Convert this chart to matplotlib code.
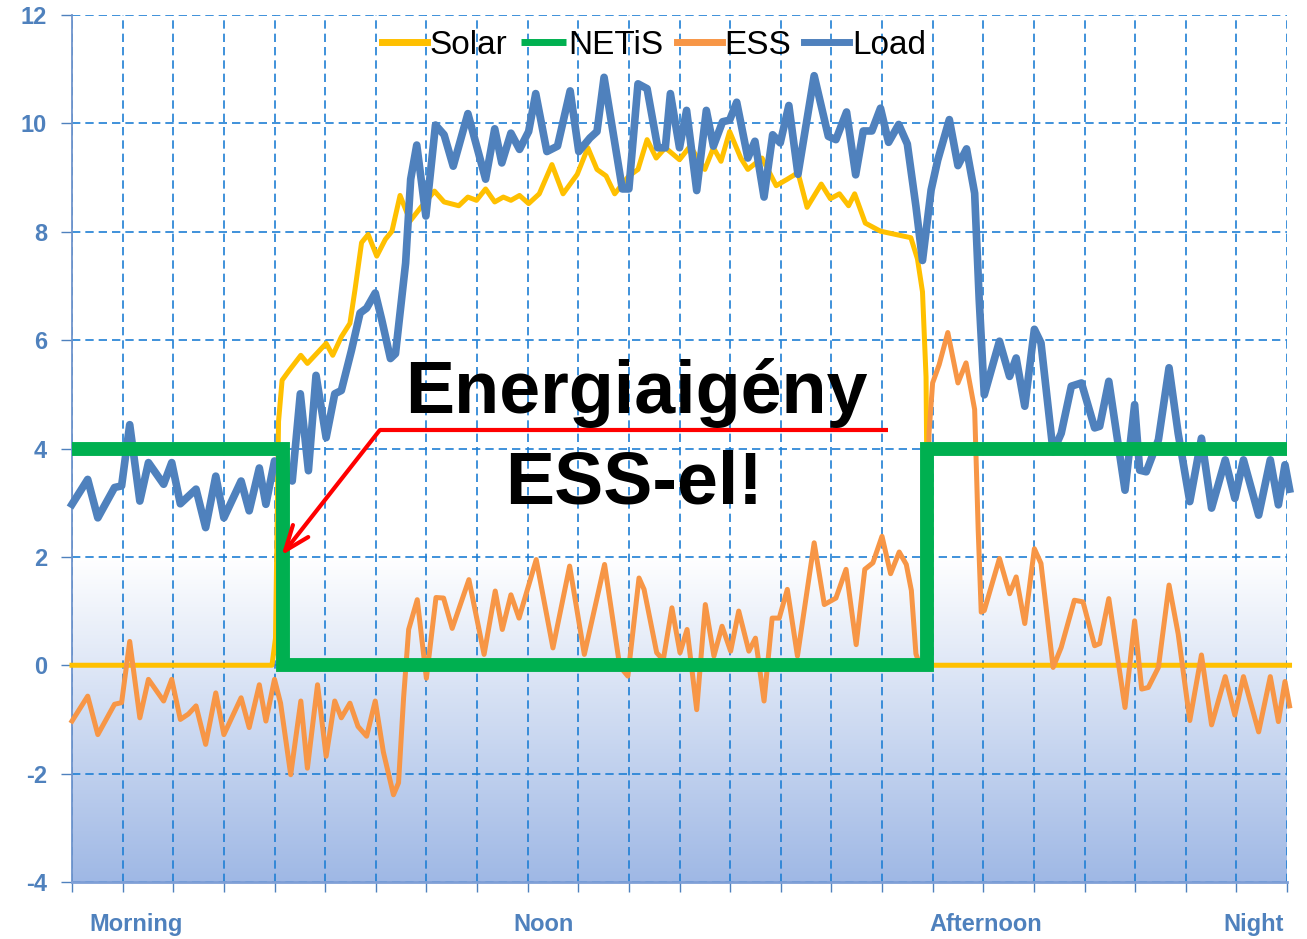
import numpy as np
import matplotlib
matplotlib.use('Agg')
import matplotlib.pyplot as plt
import matplotlib.transforms as mtransforms
from matplotlib.colors import LinearSegmentedColormap

plt.rcParams['axes.unicode_minus'] = False

# hours of the day and the four power series (kW)
solar_t = [0, 3.95, 4.02, 4.08, 4.15, 4.29, 4.52, 4.65, 5.02, 5.15, 5.32, 5.49, 5.59, 5.72, 5.85,
           6.02, 6.19, 6.32, 6.48, 6.68, 6.89, 7.16, 7.35, 7.64, 7.82, 7.99, 8.17, 8.35, 8.52, 8.67,
           8.84, 9.02, 9.23, 9.48, 9.7, 9.98, 10.19, 10.37, 10.55, 10.72, 11.0, 11.18, 11.36, 11.54,
           11.72, 12.0, 12.21, 12.5, 12.67, 12.82, 12.99, 13.21, 13.35, 13.63, 13.91, 14.13, 14.34,
           14.52, 14.8, 14.98, 15.16, 15.34, 15.46, 15.67, 15.97, 16.57, 16.7, 16.8, 16.87, 16.9,
           16.93, 17.0, 24.05]
solar_v = [0, 0, 0.5, 4.5, 5.26, 5.44, 5.72, 5.57, 5.94, 5.72, 6.06, 6.31, 6.93, 7.8, 7.95,
           7.55, 7.86, 8.01, 8.67, 8.2, 8.45, 8.75, 8.55, 8.48, 8.64, 8.58, 8.79, 8.55, 8.64, 8.58,
           8.67, 8.52, 8.7, 9.24, 8.7, 9.06, 9.55, 9.15, 9.03, 8.7, 9.03, 9.15, 9.7, 9.36,
           9.55, 9.33, 9.58, 9.15, 9.55, 9.3, 9.85, 9.36, 9.15, 9.36, 8.85, 8.97, 9.09,
           8.45, 8.88, 8.61, 8.7, 8.48, 8.7, 8.16, 8.01, 7.89, 7.5, 6.89, 5.32, 2.0,
           0.1, 0, 0]

netis_t = [0, 4.17, 4.17, 16.88, 16.88, 24.0]
netis_v = [4, 4, 0, 0, 4, 4]

ess_t = [0.0, 0.31, 0.51, 0.84, 0.98, 1.14, 1.34, 1.51, 1.81, 1.97, 2.14, 2.3, 2.45, 2.64, 2.84,
         3.0, 3.34, 3.5, 3.7, 3.83, 4.0, 4.12, 4.32, 4.52, 4.65, 4.85, 5.02, 5.19, 5.32, 5.49,
         5.65, 5.82, 5.99, 6.15, 6.35, 6.45, 6.55, 6.65, 6.82, 7.0, 7.19, 7.34, 7.51, 7.84, 8.14,
         8.36, 8.5, 8.67, 8.83, 9.17, 9.5, 9.83, 10.12, 10.52, 10.82, 10.98, 11.2, 11.3, 11.55,
         11.68, 11.85, 12.01, 12.15, 12.34, 12.51, 12.68, 12.84, 13.01, 13.17, 13.37, 13.5, 13.67,
         13.83, 13.97, 14.13, 14.33, 14.66, 14.86, 15.09, 15.29, 15.49, 15.66, 15.82, 16.0, 16.17,
         16.34, 16.48, 16.58, 16.67, 16.75, 16.85, 16.93, 17.0, 17.13, 17.3, 17.5, 17.66, 17.83,
         17.9, 17.96, 18.02, 18.32, 18.52, 18.65, 18.82, 19.01, 19.14, 19.38, 19.54, 19.8, 19.97,
         20.2, 20.3, 20.48, 20.8, 20.99, 21.13, 21.26, 21.46, 21.67, 21.85, 22.08, 22.31, 22.51,
         22.78, 22.97, 23.14, 23.44, 23.67, 23.83, 23.96, 24.05]
ess_v = [-1.03, -0.57, -1.28, -0.72, -0.69, 0.44, -0.97, -0.26, -0.66, -0.26, -1.0, -0.9, -0.75, -1.46, -0.51,
         -1.28, -0.6, -1.15, -0.36, -1.03, -0.26, -0.7, -2.02, -0.66, -1.9, -0.36, -1.68, -0.66, -0.97, -0.7,
         -1.13, -1.31, -0.66, -1.6, -2.39, -2.17, -0.6, 0.66, 1.21, -0.24, 1.25, 1.24, 0.68, 1.58, 0.2,
         1.37, 0.66, 1.3, 0.87, 1.95, 0.32, 1.83, 0.2, 1.86, -0.02, -0.2, 1.61, 1.4, 0.23,
         0.1, 1.06, 0.23, 0.66, -0.82, 1.12, 0.17, 0.72, 0.26, 1.0, 0.26, 0.5, -0.66,
         0.87, 0.87, 1.4, 0.17, 2.26, 1.12, 1.24, 1.77, 0.38, 1.77, 1.89, 2.38, 1.69,
         2.09, 1.86, 1.38, 0.21, 0.0, 0.1, 4.3, 5.21, 5.55, 6.14, 5.21, 5.58, 4.72,
         2.5, 0.98, 1.01, 1.97, 1.32, 1.63, 0.77, 2.15, 1.88, -0.04, 0.33, 1.2, 1.17,
         0.36, 0.4, 1.23, -0.78, 0.82, -0.44, -0.41, -0.04, 1.48, 0.58, -1.02, 0.19, -1.1,
         -0.21, -0.92, -0.21, -1.23, -0.21, -1.04, -0.3, -0.75]

load_t = [0.0, 0.31, 0.51, 0.84, 0.98, 1.14, 1.34, 1.51, 1.81, 1.97, 2.14, 2.3, 2.45, 2.64, 2.84,
          3.0, 3.34, 3.5, 3.7, 3.83, 4.0, 4.18, 4.35, 4.51, 4.67, 4.82, 5.02, 5.19, 5.32, 5.52,
          5.69, 5.82, 5.99, 6.12, 6.29, 6.39, 6.59, 6.69, 6.81, 6.99, 7.18, 7.35, 7.53, 7.82, 8.17,
          8.35, 8.49, 8.67, 8.84, 9.02, 9.16, 9.38, 9.59, 9.84, 10.01, 10.23, 10.37, 10.51, 10.87,
          11.0, 11.18, 11.36, 11.57, 11.72, 11.82, 12.0, 12.14, 12.34, 12.53, 12.67, 12.85, 12.99,
          13.13, 13.35, 13.49, 13.67, 13.84, 13.99, 14.16, 14.34, 14.66, 14.94, 15.09, 15.3, 15.48,
          15.63, 15.8, 15.97, 16.13, 16.33, 16.5, 16.67, 16.8, 16.97, 17.1, 17.33, 17.5, 17.67,
          17.83, 17.92, 18.02, 18.32, 18.52, 18.65, 18.82, 19.01, 19.14, 19.38, 19.54, 19.74, 19.94,
          20.2, 20.3, 20.48, 20.8, 20.99, 21.09, 21.22, 21.46, 21.67, 21.85, 22.08, 22.31, 22.51,
          22.78, 22.97, 23.14, 23.44, 23.67, 23.83, 23.96, 24.05]
load_v = [2.97, 3.43, 2.72, 3.28, 3.31, 4.44, 3.03, 3.74, 3.34, 3.74, 2.98, 3.12, 3.25, 2.54, 3.49,
          2.72, 3.4, 2.85, 3.64, 2.97, 3.77, 3.55, 3.4, 5.01, 3.59, 5.35, 4.2, 5.01, 5.07, 5.81,
          6.5, 6.59, 6.87, 6.37, 5.66, 5.75, 7.42, 8.97, 9.6, 8.29, 9.97, 9.79, 9.21, 10.18, 8.97,
          9.9, 9.27, 9.82, 9.52, 9.85, 10.55, 9.48, 9.58, 10.6, 9.48, 9.73, 9.85, 10.85, 8.79,
          8.79, 10.73, 10.64, 9.55, 9.55, 10.55, 9.55, 10.24, 8.76, 10.24, 9.58, 10.03, 10.06,
          10.39, 9.36, 9.67, 8.64, 9.79, 9.64, 10.33, 9.06, 10.88, 9.76, 9.7, 10.21, 9.05,
          9.86, 9.86, 10.28, 9.65, 9.98, 9.62, 8.47, 7.47, 8.77, 9.32, 10.07, 9.22, 9.53,
          8.71, 6.75, 4.99, 5.98, 5.33, 5.67, 4.78, 6.2, 5.95, 3.94, 4.28, 5.15, 5.21,
          4.38, 4.41, 5.24, 3.23, 4.81, 3.6, 3.57, 4.16, 5.49, 4.28, 3.02, 4.19, 2.9,
          3.79, 3.08, 3.79, 2.77, 3.79, 2.96, 3.7, 3.25]

period_labels = ['Morning', 'Noon', 'Afternoon', 'Night']
period_pos = [1.26, 9.32, 18.05, 23.35]
y_ticks = [-4, -2, 0, 2, 4, 6, 8, 10, 12]

blue_txt = '#4f81bd'
grid_c = '#1f7fd4'
sans = ['Liberation Sans', 'DejaVu Sans']

fig = plt.figure(figsize=(13.07, 9.39), dpi=100)
ax = fig.add_axes([72 / 1307, 57 / 939, 1215 / 1307, 867 / 939])

# shaded band under the 2 kW line, white on top fading to blue
cmap = LinearSegmentedColormap.from_list('band', ['#ffffff', '#9fb8e5'])
ax.imshow(np.linspace(1, 0, 256).reshape(-1, 1), extent=[0, 24, -4, 2], cmap=cmap,
          aspect='auto', origin='lower', zorder=0)

ax.plot(solar_t, solar_v, color='#ffc000', lw=3.6, label='Solar', zorder=3,
        solid_joinstyle='round', clip_on=False)
ax.plot(ess_t, ess_v, color='#f79646', lw=3.6, label='ESS', zorder=3,
        solid_joinstyle='round', clip_on=False)
ax.plot(load_t, load_v, color='#4f81bd', lw=5.5, label='Load', zorder=4,
        solid_joinstyle='round', clip_on=False)
ax.plot(netis_t, netis_v, color='#00b050', lw=10, label='NETiS', zorder=5,
        solid_joinstyle='miter', solid_capstyle='butt')

ax.set_xlim(0, 24)
ax.set_ylim(-4, 12)
ax.set_xticks(np.arange(0, 25, 1))
ax.set_xticklabels([])
ax.set_yticks(y_ticks, labels=[str(v) for v in y_ticks], fontsize=17,
              fontweight='bold', color=blue_txt, family=sans)
ax.tick_params(axis='x', direction='out', length=7, width=1, color=blue_txt)
ax.tick_params(axis='y', direction='out', length=8, width=1, color=blue_txt, pad=10)

ax.grid(True, color=grid_c, lw=1.2, linestyle=(0, (5, 3)), zorder=1)
ax.set_axisbelow(True)
for s in ['top', 'right']:
    ax.spines[s].set_visible(False)
ax.spines['left'].set_color('#6f94cc')
ax.spines['left'].set_linewidth(1.3)
ax.spines['bottom'].set_color('#7f9fd6')
ax.spines['bottom'].set_linewidth(2)

trans = mtransforms.blended_transform_factory(ax.transData, fig.transFigure)
for lab, xp in zip(period_labels, period_pos):
    fig.text(xp, 8 / 939, lab, transform=trans, ha='center', va='baseline',
             fontsize=17, fontweight='bold', color=blue_txt, family=sans)

h, l = ax.get_legend_handles_labels()
order = [l.index(n) for n in ['Solar', 'NETiS', 'ESS', 'Load']]
leg = ax.legend([h[i] for i in order], [l[i] for i in order], loc='center',
                bbox_to_anchor=(0.479, 0.965), ncol=4, frameon=False,
                handlelength=1.35, handletextpad=0.08, columnspacing=0.4,
                prop={'family': sans, 'size': 24})
for ln in leg.get_lines():
    ln.set_linewidth(5)

# callout
ax.plot([16.12, 6.08], [4.34, 4.34], color='#ff0000', lw=3, zorder=6, solid_capstyle='butt')
ax.annotate('', xy=(4.14, 2.03), xytext=(6.08, 4.34),
            arrowprops=dict(arrowstyle='->,head_length=1.8,head_width=0.7',
                            color='#ff0000', lw=3, shrinkA=0, shrinkB=0), zorder=6)
ax.text(11.14, 4.65, 'Energiaigény', ha='center', va='baseline', fontsize=53,
        fontweight='bold', family=sans, zorder=7)
ax.text(11.1, 2.99, 'ESS-el!', ha='center', va='baseline', fontsize=53,
        fontweight='bold', family=sans, zorder=7)

fig.savefig('out.png', dpi=100)
